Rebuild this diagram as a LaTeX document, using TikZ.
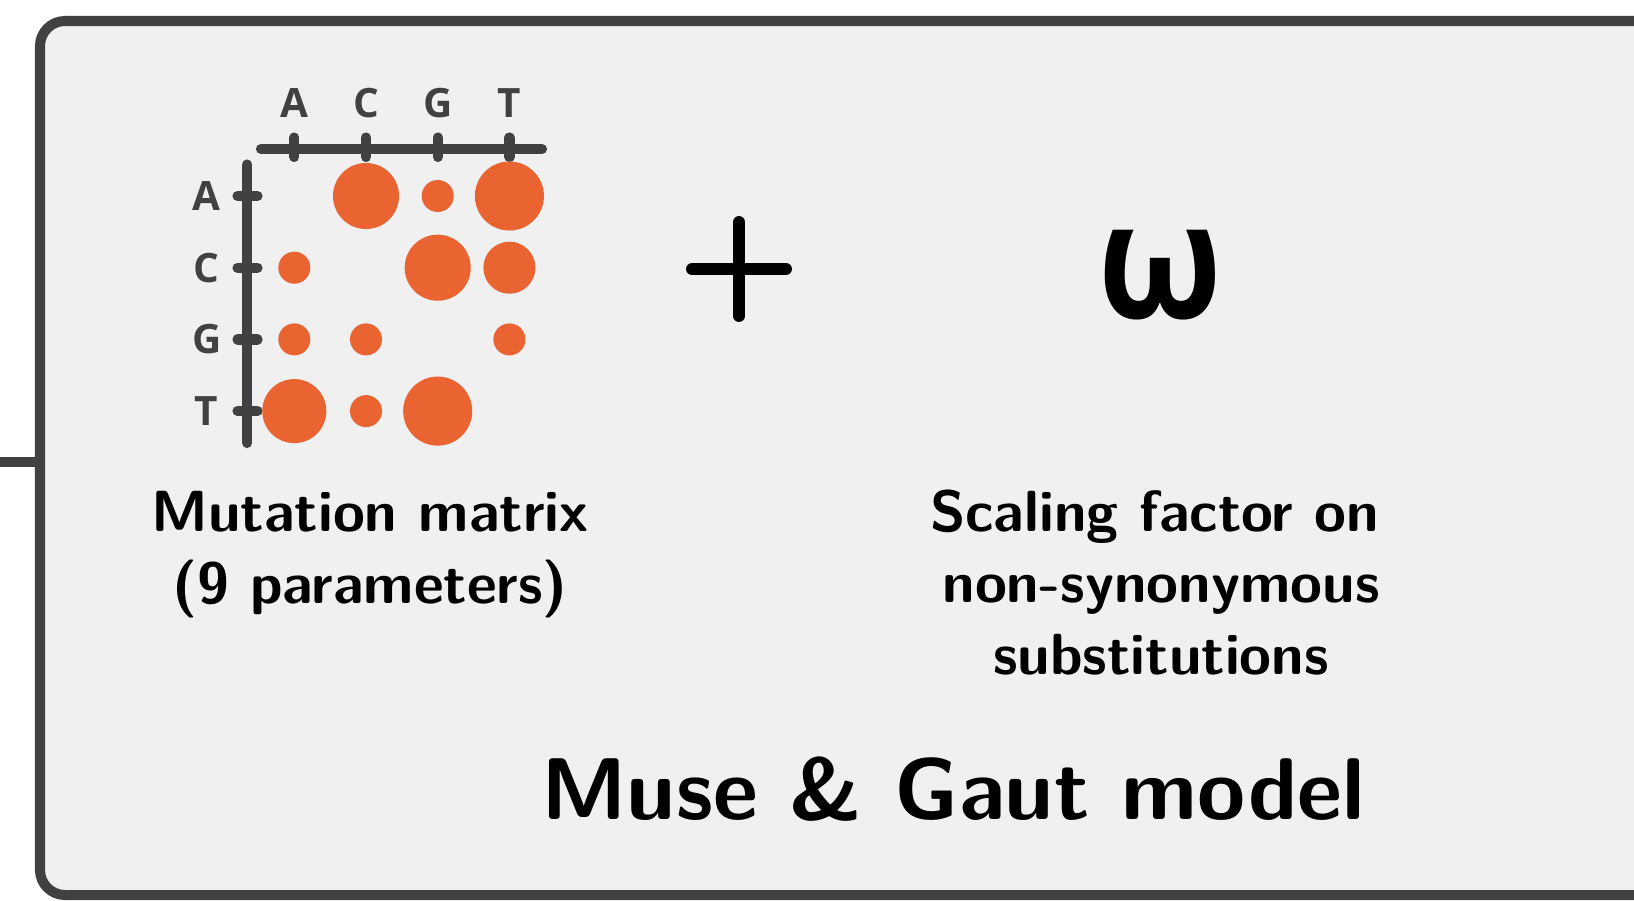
\documentclass[tikz,border=0pt]{standalone}
\usepackage{fontspec}
\newfontfamily\labelfont{Open Sans}
\usetikzlibrary{positioning}
\definecolor{boxGrey}{HTML}{F0F0F0}
\definecolor{axisGrey}{HTML}{414143}
\definecolor{dotOrange}{HTML}{E96431}

\tikzset{
  frame/.style={draw=axisGrey, line width=2.85pt},
  axis/.style={draw=axisGrey, line width=2.9pt, line cap=round},
  base/.style={font=\labelfont\bfseries\fontsize{11.5}{13}\selectfont, text=axisGrey, inner sep=0pt},
  dot/.style={circle, fill=dotOrange, inner sep=0pt, minimum size=#1},
  caption/.style={font=\sffamily\bfseries\fontsize{16.5}{20.2}\selectfont, align=center, inner sep=0pt, anchor=base},
  plus/.style={draw=black, line width=3.4pt, line cap=round},
}

\begin{document}
\begin{tikzpicture}[x=0.01cm, y=-0.01cm]
    \useasboundingbox (0,0) rectangle (1634,900);
    \clip (0,0) rectangle (1634,900);

    % cadre du modele, coupe a droite et en bas
    \draw[frame, fill=boxGrey, rounded corners=0.25cm] (40,21) rectangle (1760,895);
    \coordinate (feed) at (0,462);
    \coordinate (boxedge) at (40,462);
    \draw[frame] (feed) -- (boxedge);

    % axes de la matrice
    \coordinate (hleft) at (261,149);
    \coordinate (hright) at (542,149);
    \coordinate (vtop) at (247.3,164.5);
    \coordinate (vbot) at (247.3,443);
    \draw[axis] (hleft) -- (hright);
    \draw[axis] (vtop) -- (vbot);

    \foreach \i/\b in {1/A, 2/C, 3/G, 4/T} {
      \node[base] (col\b) at (222.6+71.7*\i,103) {\b};
      \node[base] (row\b) at (206.7,124.3+71.7*\i) {\b};
      \coordinate (ct\i) at (222.6+71.7*\i,137.5);
      \coordinate (cb\i) at (222.6+71.7*\i,157);
      \coordinate (rl\i) at (237.5,124.3+71.7*\i);
      \coordinate (rr\i) at (257.5,124.3+71.7*\i);
      \draw[axis] (ct\i) -- (cb\i);
      \draw[axis] (rl\i) -- (rr\i);
    }

    % taux de mutation : ligne/colonne/rayon
    \foreach \r/\c/\s in {1/2/33, 1/3/16, 1/4/34.5,
                          2/1/16, 2/3/33, 2/4/26,
                          3/1/16, 3/2/16, 3/4/16,
                          4/1/32, 4/2/16, 4/3/34.5} {
      \node[dot=\s*0.02cm] (d\r\c) at (222.6+71.7*\c,124.3+71.7*\r) {};
    }

    % base = ligne du bas
    \node[caption] (mutation) at (370,603) {Mutation matrix\\(9 parameters)};

    % le plus
    \coordinate (pl) at (692,269);
    \coordinate (pr) at (786,269);
    \coordinate (pt) at (739,222);
    \coordinate (pb) at (739,316);
    \draw[plus] (pl) -- (pr);
    \draw[plus] (pt) -- (pb);

    \node[font=\labelfont\bfseries\fontsize{46}{50}\selectfont, inner sep=0pt, anchor=base] (omega) at (1160,318) {\scalebox{0.9}[1]{ω}};
    \node[caption] (scaling) at (1161,674) {Scaling factor on\hspace*{0.13cm}\\non-synonymous\\substitutions};

    \node[font=\sffamily\bfseries\fontsize{24.9}{30}\selectfont, inner sep=0pt, anchor=base] (title) at (953,819) {Muse \& Gaut model};
\end{tikzpicture}
\end{document}
